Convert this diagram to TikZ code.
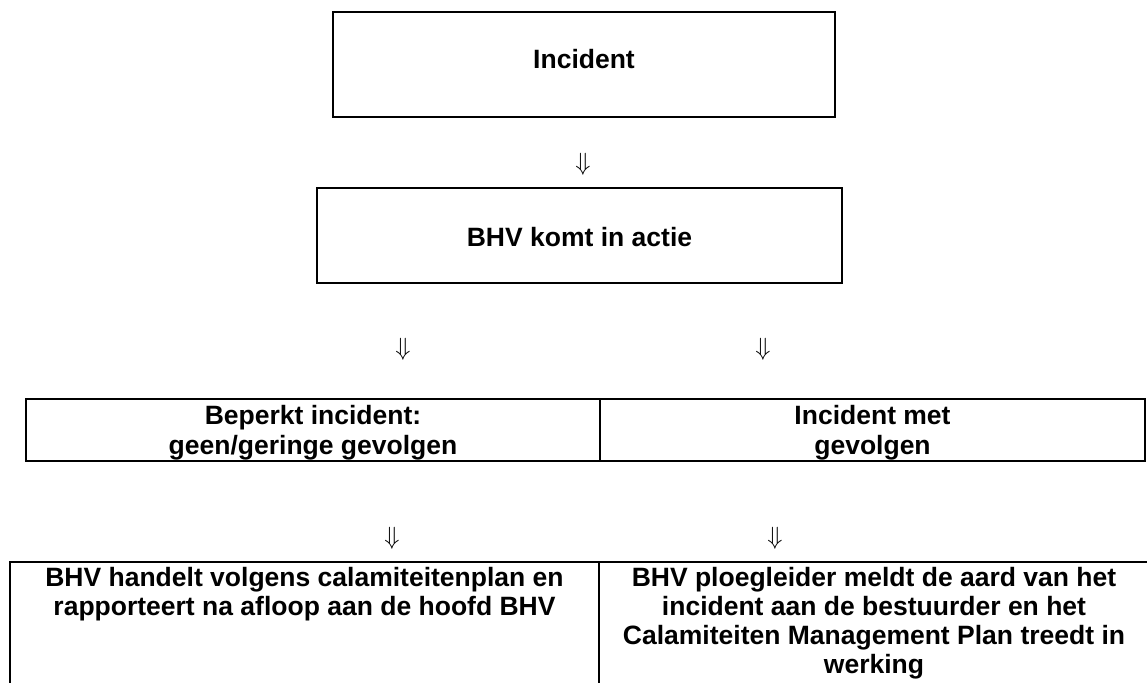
\documentclass[tikz,border=0pt]{standalone}
\usepackage{fontspec}
\setmainfont{Liberation Sans}
\begin{document}
\begin{tikzpicture}[x=1pt,y=-1pt,
  box/.style={draw, line width=1.5pt, rectangle, inner sep=0pt},
  lbl/.style={font=\bfseries\fontsize{26.5}{30}\selectfont, align=center, anchor=base, inner sep=0pt},
  lbltight/.style={lbl, font=\bfseries\fontsize{26.5}{29}\selectfont},
  darr/.style={font=\fontsize{29}{30}\selectfont, inner sep=0pt}]
\useasboundingbox (0,0) rectangle (1147,682);
\clip (0,0) rectangle (1147,682);
% boxes
\node[box, minimum width=502pt, minimum height=105pt] (incbox) at (584,64.5) {};
\node[box, minimum width=525pt, minimum height=95pt] (bhvbox) at (579.5,235.5) {};
\node[box, minimum width=574pt, minimum height=62pt] (bepbox) at (313,430) {};
\node[box, minimum width=545pt, minimum height=62pt] (metbox) at (872.5,430) {};
\node[box, minimum width=589pt, minimum height=160pt] (hanbox) at (304.5,642) {};
\node[box, minimum width=550pt, minimum height=160pt] (ploegbox) at (874,642) {};
% texts (anchor base = baseline of the last line)
\node[lbl] (inc) at (584,68.3) {Incident};
\node[lbl] (bhv) at (579.5,246.5) {BHV komt in actie};
\node[lbl] (bep) at (313,454) {Beperkt incident:\\geen/geringe gevolgen};
\node[lbl] (met) at (872.5,454) {Incident met\\gevolgen};
\node[lbltight] (han) at (304.5,615) {BHV handelt volgens calamiteitenplan en\\rapporteert na afloop aan de hoofd BHV};
\node[lbltight] (ploeg) at (874,673) {BHV ploegleider meldt de aard van het\\incident aan de bestuurder en het\\Calamiteiten Management Plan treedt in\\werking};
% arrows
\node[darr] (a1) at (583,164) {$\Downarrow$};
\node[darr] (a2) at (403,349.5) {$\Downarrow$};
\node[darr] (a3) at (763,349.5) {$\Downarrow$};
\node[darr] (a4) at (392,538.5) {$\Downarrow$};
\node[darr] (a5) at (775,538.5) {$\Downarrow$};
\end{tikzpicture}
\end{document}
